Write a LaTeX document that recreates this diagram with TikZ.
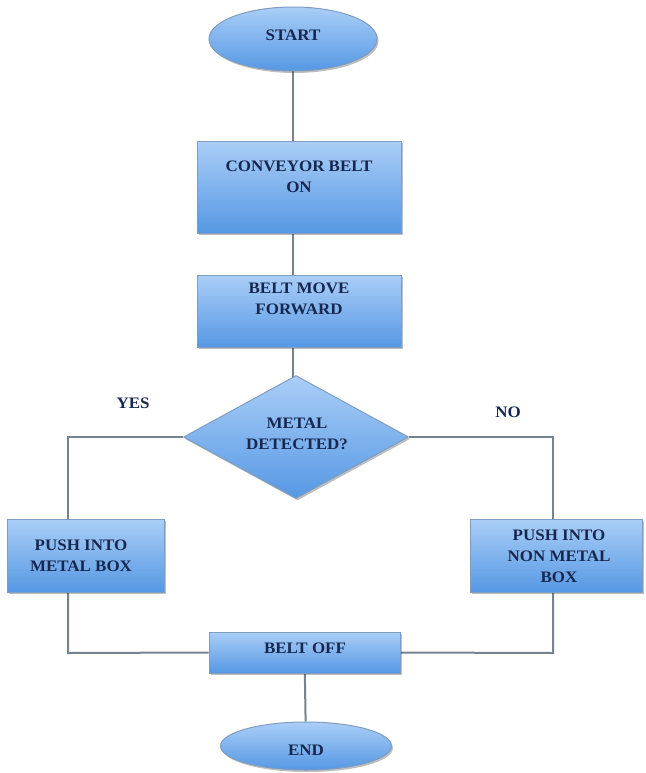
\documentclass[tikz,border=0pt]{standalone}
\usepackage{fontspec}
\setmainfont{Liberation Serif}[FakeStretch=1.06]
\usetikzlibrary{shapes.geometric,shadows,backgrounds}
\definecolor{boxtop}{HTML}{AACEF7}
\definecolor{boxbot}{HTML}{5698E4}
\definecolor{boxline}{HTML}{7F9DC0}
\definecolor{txtcol}{HTML}{172850}
\definecolor{linecol}{HTML}{75838F}
\begin{document}
\begin{tikzpicture}[x=1pt,y=-1pt,
  shapebase/.style={draw=boxline, line width=1pt, top color=boxtop, bottom color=boxbot,
    drop shadow={shadow xshift=1.5pt,shadow yshift=-2pt,opacity=0.25,fill=black}},
  procbox/.style={shapebase, rectangle, inner sep=0pt},
  term/.style={shapebase, ellipse, inner sep=0pt},
  decis/.style={shapebase, diamond, inner sep=0pt},
  lbl/.style={font=\bfseries\fontsize{16}{21}\selectfont, text=txtcol, align=center, inner sep=0pt},
  conn/.style={draw=linecol, line width=2pt}]
\useasboundingbox (0,0) rectangle (645,773);

% shapes
\node[term, minimum width=168pt, minimum height=64pt] (start) at (293,39) {};
\node[procbox, minimum width=204pt, minimum height=92pt] (conv) at (299,187) {};
\node[procbox, minimum width=204pt, minimum height=72pt] (belt) at (299,311) {};
\node[decis, minimum width=225pt, minimum height=123pt] (dec) at (296,437) {};
\node[procbox, minimum width=157pt, minimum height=73pt] (lbox) at (85.5,555.5) {};
\node[procbox, minimum width=172pt, minimum height=73pt] (rbox) at (556,555.5) {};
\node[procbox, minimum width=191pt, minimum height=41pt] (off) at (304.5,652.5) {};
\node[term, minimum width=171pt, minimum height=48pt] (end) at (306,746) {};

% texts
\node[lbl] (startt) at (293,35) {START};
\node[lbl] (convt) at (299,177) {CONVEYOR BELT\\ON};
\node[lbl] (beltt) at (299,299) {BELT MOVE\\FORWARD};
\node[lbl] (dect) at (297,434) {METAL\\DETECTED?};
\node[lbl] (lboxt) at (81,556) {PUSH INTO\\METAL BOX};
\node[lbl] (rboxt) at (559,556) {PUSH INTO\\NON METAL\\BOX};
\node[lbl] (offt) at (305,648) {BELT OFF};
\node[lbl] (endt) at (306,750) {END};
\node[lbl] (yes) at (133,403) {YES};
\node[lbl] (no) at (508,412) {NO};

\coordinate (lj) at (68,437);
\coordinate (lb) at (68,653);
\coordinate (rj) at (553,437);
\coordinate (rb) at (553,653);

\begin{pgfonlayer}{background}
\draw[conn] (start) -- (start |- conv.north);
\draw[conn] (start |- conv.south) -- (start |- belt.north);
\draw[conn] (start |- belt.south) -- (start |- dec);
\draw[conn] (dec.west) -- (lj) -- (lj |- lbox.north);
\draw[conn] (dec.east) -- (rj) -- (rj |- rbox.north);
\draw[conn] (lj |- lbox.south) -- (lb) -- (off.west);
\draw[conn] (rj |- rbox.south) -- (rb) -- (off.east);
\draw[conn] (off) -- (end);
\end{pgfonlayer}
\end{tikzpicture}
\end{document}
